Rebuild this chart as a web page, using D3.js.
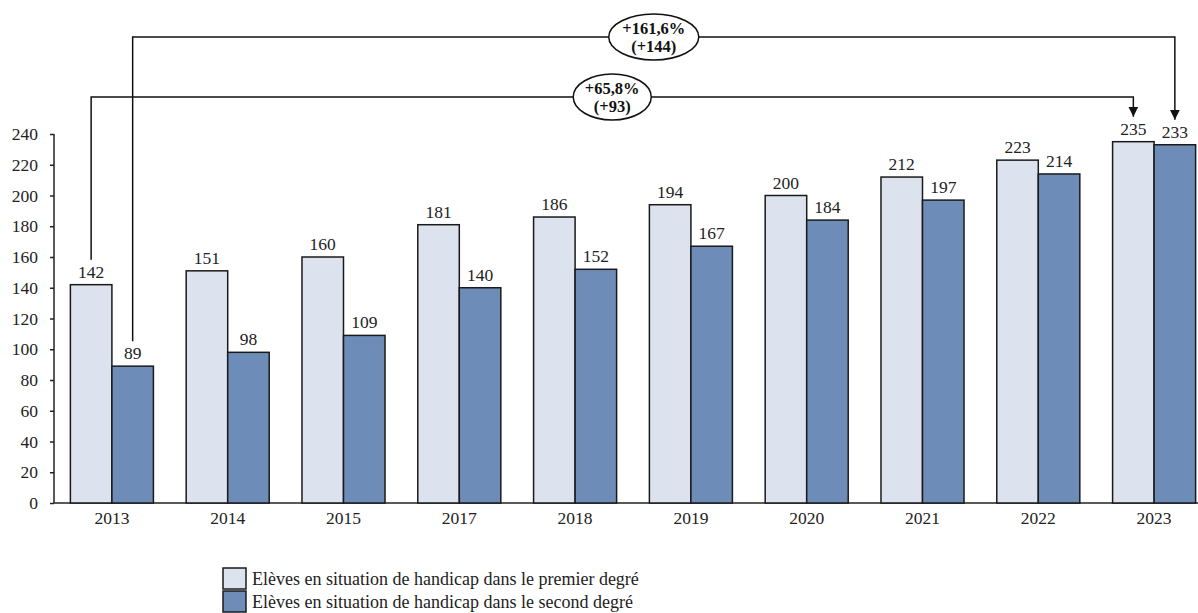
<!DOCTYPE html>
<html><head><meta charset="utf-8">
<script src="https://cdn.jsdelivr.net/npm/d3@7"></script>
<style>html,body{margin:0;padding:0;background:#fff;}svg{display:block;}</style>
</head><body>
<svg id="c" width="1198" height="613"></svg>
<script>
const years = ["2013","2014","2015","2017","2018","2019","2020","2021","2022","2023"];
const premier = [142,151,160,181,186,194,200,212,223,235];
const second = [89,98,109,140,152,167,184,197,214,233];
const seriesNames = ["Elèves en situation de handicap dans le premier degré","Elèves en situation de handicap dans le second degré"];
const seriesColors = ["#dce3ee","#6d8cb8"];
const yTicks = [0,20,40,60,80,100,120,140,160,180,200,220,240];
const annotations = [
  {from:"premier", pct:"+65,8%", abs:"(+93)"},
  {from:"second", pct:"+161,6%", abs:"(+144)"}
];

const svg = d3.select("#c");
const font = "'Liberation Serif', 'Times New Roman', serif";
const x0 = d3.scaleBand().domain(years).range([54,1212]).paddingInner(0.283).paddingOuter(0.1415);
const x1 = d3.scaleBand().domain(["premier","second"]).range([0,x0.bandwidth()]);
const y = d3.scaleLinear().domain([0,240]).range([503,134]);
const vals = {premier, second};
const colors = {premier: seriesColors[0], second: seriesColors[1]};

// Y axis
const yAxis = svg.append("g").attr("transform","translate(54,0)")
  .call(d3.axisLeft(y).tickValues(yTicks).tickSize(4).tickPadding(12));
yAxis.selectAll("text").style("font-family",font).style("font-size","17.5px").attr("fill","#222");
yAxis.selectAll("line,path").attr("stroke","#222").attr("stroke-width",1.5);
yAxis.select(".domain").attr("d","M0,"+y(240)+"V"+y(0));

// X axis
const xAxis = svg.append("g").attr("transform","translate(0,"+y(0)+")")
  .call(d3.axisBottom(x0).tickSize(0).tickPadding(9));
xAxis.selectAll("text").style("font-family",font).style("font-size","17.5px").attr("fill","#222");
xAxis.select(".domain").attr("stroke","#222").attr("stroke-width",1.5).attr("d","M54,0H1198");

// Bars
const g = svg.append("g");
years.forEach((yr,i)=>{
  ["premier","second"].forEach(s=>{
    const v = vals[s][i];
    const bx = x0(yr)+x1(s);
    g.append("rect").attr("x",bx).attr("y",y(v)).attr("width",x1.bandwidth()).attr("height",y(0)-y(v))
      .attr("fill",colors[s]).attr("stroke","#1a1a1a").attr("stroke-width",1.5);
    g.append("text").attr("x",bx+x1.bandwidth()/2).attr("y",y(v)-7).attr("text-anchor","middle")
      .style("font-family",font).style("font-size","17.5px").attr("fill","#222").text(v);
  });
});

// Annotations
svg.append("defs").append("marker").attr("id","arr").attr("viewBox","0 0 10 10").attr("refX",10).attr("refY",5)
  .attr("markerWidth",10).attr("markerHeight",10).attr("markerUnits","userSpaceOnUse").attr("orient","auto")
  .append("path").attr("d","M0,0L10,5L0,10Z").attr("fill","#111");
const levelY = [97,37];
const ellipseRx = [39,45];
annotations.forEach((a,k)=>{
  const s = a.from;
  const xs = x0(years[0])+x1(s)+x1.bandwidth()/2;
  const xe = x0(years[years.length-1])+x1(s)+x1.bandwidth()/2;
  const ys = y(vals[s][0]) - 25;
  const ye = y(vals[s][years.length-1]) - 25;
  const ly = levelY[k];
  svg.append("path").attr("d",`M${xs},${ys}V${ly}H${xe}V${ye}`).attr("fill","none")
    .attr("stroke","#111").attr("stroke-width",1.5).attr("marker-end","url(#arr)");
  const cx = (xs+xe)/2;
  svg.append("ellipse").attr("cx",cx).attr("cy",ly).attr("rx",ellipseRx[k]).attr("ry",23)
    .attr("fill","#fff").attr("stroke","#111").attr("stroke-width",1.5);
  svg.append("text").attr("x",cx).attr("y",ly-3).attr("text-anchor","middle")
    .style("font-family",font).style("font-size","16.5px").style("font-weight","bold").attr("fill","#111").text(a.pct);
  svg.append("text").attr("x",cx).attr("y",ly+15).attr("text-anchor","middle")
    .style("font-family",font).style("font-size","16.5px").style("font-weight","bold").attr("fill","#111").text(a.abs);
});

// Legend
const lg = svg.append("g");
seriesNames.forEach((n,i)=>{
  lg.append("rect").attr("x",223).attr("y",568+i*23).attr("width",23).attr("height",21)
    .attr("fill",seriesColors[i]).attr("stroke","#1a1a1a").attr("stroke-width",1.5);
  lg.append("text").attr("x",252).attr("y",585+i*23)
    .style("font-family",font).style("font-size","18px").attr("fill","#222").text(n);
});
</script>
</body></html>
